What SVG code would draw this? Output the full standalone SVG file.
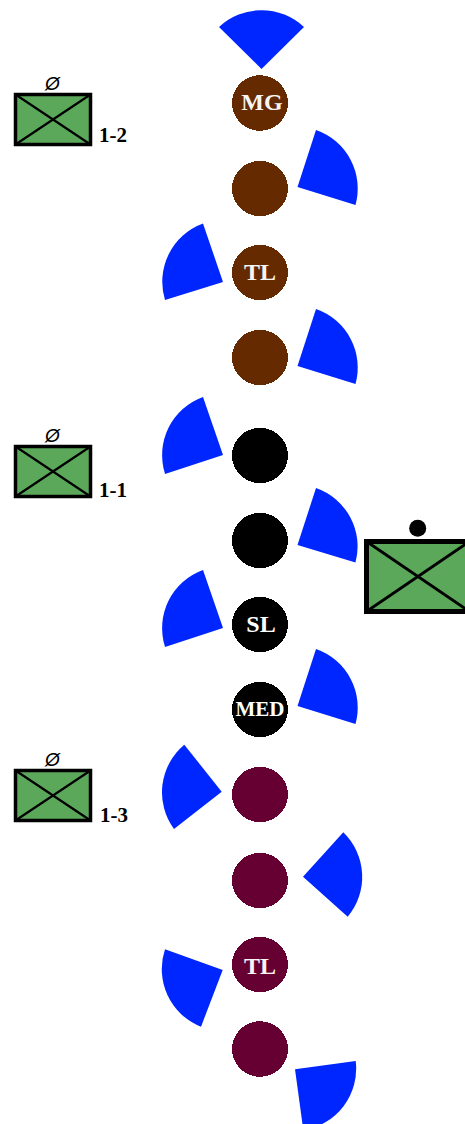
<svg xmlns="http://www.w3.org/2000/svg" width="465" height="1124" viewBox="0 0 465 1124">
<style>
.w{fill:#0026ff}
ellipse{shape-rendering:crispEdges}
.br{fill:#662a00}
.bk{fill:#000}
.ma{fill:#660033}
.t{font-family:"Liberation Serif",serif;font-weight:bold;fill:#f8f6f4;text-anchor:middle}
.l{font-family:"Liberation Serif",serif;font-weight:bold;font-size:21px;fill:#000}
.o{font-family:"Liberation Sans",sans-serif;font-style:italic;font-size:19px;fill:#000;text-anchor:middle}
.b{fill:#5ba85b;stroke:#000;stroke-width:3.5}
.x{stroke:#000;stroke-width:2.2;fill:none}
</style>
<g id="wedges">
<path class="w" d="M261.500 69L219 27A62 62 0 0 1 304 27Z"/>
<path class="w" d="M297.500 187L316 130A62 62 0 0 1 355.500 205Z"/>
<path class="w" d="M223 282L203 223.500A62 62 0 0 0 165 300Z"/>
<path class="w" d="M297.500 366L316 309A62 62 0 0 1 355.500 384Z"/>
<path class="w" d="M223 455L203 397A62 62 0 0 0 165 474Z"/>
<path class="w" d="M297.500 545L316 488A62 62 0 0 1 355.500 562.500Z"/>
<path class="w" d="M223 628L203 570A62 62 0 0 0 165 647Z"/>
<path class="w" d="M297.500 706L316 649A62 62 0 0 1 355.500 724Z"/>
<path class="w" d="M221.700 791.700L184.300 744.700A62 62 0 0 0 174 829Z"/>
<path class="w" d="M303 876.700L343.300 832.300A62 62 0 0 1 347.700 916.700Z"/>
<path class="w" d="M222.700 970L165 949.300A62 62 0 0 0 201 1026.700Z"/>
<path class="w" d="M295 1069.300L355.700 1061A62 62 0 0 1 303.300 1130Z"/>
</g>
<g id="n1"><ellipse class="br" cx="260" cy="103" rx="28" ry="27.800"/><text class="t" x="262" y="110" font-size="24">MG</text></g>
<g id="n2"><ellipse class="br" cx="260" cy="188.500" rx="28" ry="27.600"/></g>
<g id="n3"><ellipse class="br" cx="260" cy="272.500" rx="28" ry="27.600"/><text class="t" x="260" y="280" font-size="24">TL</text></g>
<g id="n4"><ellipse class="br" cx="260" cy="357.500" rx="28" ry="27.600"/></g>
<g id="n5"><ellipse class="bk" cx="260" cy="455.500" rx="28" ry="27.600"/></g>
<g id="n6"><ellipse class="bk" cx="260" cy="540.500" rx="28" ry="27.600"/></g>
<g id="n7"><ellipse class="bk" cx="260" cy="624.500" rx="28" ry="27.600"/><text class="t" x="261" y="632" font-size="24" style="fill:#fff">SL</text></g>
<g id="n8"><ellipse class="bk" cx="260" cy="709.500" rx="28" ry="27.600"/><text class="t" x="260" y="716" font-size="21" style="fill:#fff">MED</text></g>
<g id="n9"><ellipse class="ma" cx="260" cy="794.500" rx="28" ry="27.600"/></g>
<g id="n10"><ellipse class="ma" cx="260" cy="880.500" rx="28" ry="27.600"/></g>
<g id="n11"><ellipse class="ma" cx="260" cy="964.500" rx="28" ry="27.600"/><text class="t" x="260" y="974" font-size="24">TL</text></g>
<g id="n12"><ellipse class="ma" cx="260" cy="1049" rx="28" ry="27.800"/></g>
<g id="unit-1-2"><rect class="b" x="15.500" y="94.500" width="75" height="50"/><path class="x" d="M15.500 94.500L90.500 144.500M90.500 94.500L15.500 144.500"/><text class="o" x="52.500" y="90">Ø</text><text class="l" x="99" y="142">1-2</text></g>
<g id="unit-1-1"><rect class="b" x="15.500" y="446.500" width="75" height="50"/><path class="x" d="M15.500 446.500L90.500 496.500M90.500 446.500L15.500 496.500"/><text class="o" x="52.500" y="442">Ø</text><text class="l" x="99" y="497">1-1</text></g>
<g id="unit-1-3"><rect class="b" x="15.500" y="770.500" width="75" height="50"/><path class="x" d="M15.500 770.500L90.500 820.500M90.500 770.500L15.500 820.500"/><text class="o" x="52.500" y="766">Ø</text><text class="l" x="100" y="822">1-3</text></g>
<g id="unit-main"><rect x="366.500" y="541.500" width="103" height="70" fill="#5ba85b" stroke="#000" stroke-width="5"/><path d="M366.500 541.500L469.500 611.500M469.500 541.500L366.500 611.500" stroke="#000" stroke-width="2.800" fill="none"/><circle cx="417.700" cy="528.300" r="8.500" fill="#000"/></g>
</svg>
